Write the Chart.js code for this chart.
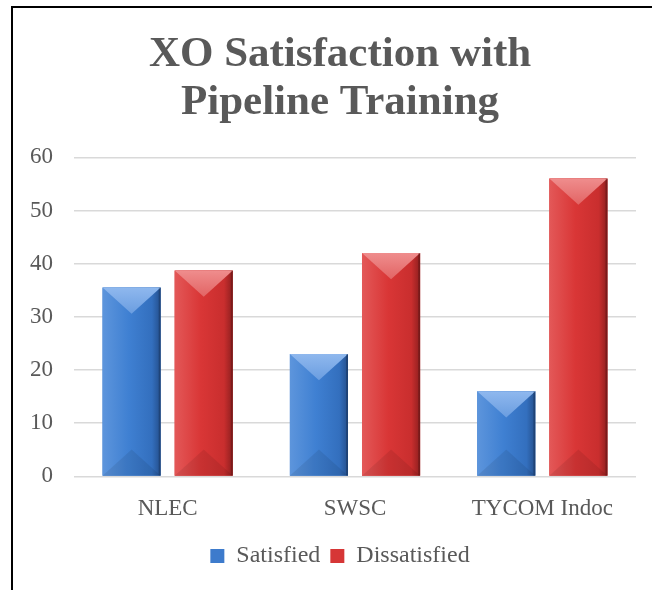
<!DOCTYPE html>
<html>
<head>
<meta charset="utf-8">
<script src="https://cdn.jsdelivr.net/npm/chart.js@4"></script>
<style>
html, body { margin: 0; padding: 0; background: #fff; overflow: hidden; width: 652px; height: 590px; }
#frame { position: absolute; left: 11px; top: 6px; width: 700px; height: 700px;
         border-top: 2px solid #000; border-left: 2px solid #000; }
#wrap { position: absolute; left: 0; top: 0; width: 660px; height: 590px; }
</style>
</head>
<body>
<div id="frame"></div>
<div id="wrap"><canvas id="chart" width="660" height="590"></canvas></div>
<script>
// chart values
const categories = ['NLEC', 'SWSC', 'TYCOM Indoc'];
const seriesNames = ['Satisfied', 'Dissatisfied'];
const satisfied = [35.5, 23, 16];
const dissatisfied = [38.7, 42, 56];
const yTicks = [0, 10, 20, 30, 40, 50, 60];

const serif = '"Liberation Serif", "Times New Roman", serif';
const textGray = '#595959';

// colours for the bevelled look of each series
const palettes = [
    { base: '#3d7bcc', left: '#5d95dc', mid: '#3f80d2', mid2: '#336fbe', right: '#244f8c', top: '#8fb8ee', topEnd: '#6a9de0' },
    { base: '#d63636', left: '#e35858', mid: '#d93636', mid2: '#c92e2e', right: '#8e1f1f', top: '#ef8d8d', topEnd: '#e26464' }
];

// Draw the bevel on top of each bar, using the bar element positions
const bevelPlugin = {
    id: 'bevel',
    afterDatasetsDraw(chart) {
        const ctx = chart.ctx;
        chart.data.datasets.forEach((ds, i) => {
            const meta = chart.getDatasetMeta(i);
            if (meta.hidden) return;
            const pal = palettes[i];
            meta.data.forEach(bar => {
                const { x, y, base, width } = bar.getProps(['x', 'y', 'base', 'width'], true);
                const l = x - width / 2, r = x + width / 2, t = y, b = base, h = b - t;
                ctx.save();
                let g = ctx.createLinearGradient(l, 0, r, 0);
                g.addColorStop(0, pal.left);
                g.addColorStop(0.45, pal.mid);
                g.addColorStop(0.85, pal.mid2);
                g.addColorStop(1, pal.right);
                ctx.fillStyle = g;
                ctx.fillRect(l, t, width, h);

                const d = Math.min(width * 0.45, h / 2);
                // top facet
                g = ctx.createLinearGradient(0, t, 0, t + d);
                g.addColorStop(0, pal.top);
                g.addColorStop(1, pal.topEnd);
                ctx.fillStyle = g;
                ctx.beginPath();
                ctx.moveTo(l, t); ctx.lineTo(r, t); ctx.lineTo(x, t + d);
                ctx.closePath(); ctx.fill();
                // bottom facet
                ctx.fillStyle = 'rgba(0,0,0,0.08)';
                ctx.beginPath();
                ctx.moveTo(l, b); ctx.lineTo(r, b); ctx.lineTo(x, b - d);
                ctx.closePath(); ctx.fill();
                // dark right edge
                ctx.fillStyle = 'rgba(0,0,0,0.18)';
                ctx.fillRect(r - 2, t, 2, h);
                ctx.restore();
            });
        });
    }
};

new Chart(document.getElementById('chart'), {
    type: 'bar',
    data: {
        labels: categories,
        datasets: [
            { label: seriesNames[0], data: satisfied, backgroundColor: palettes[0].base },
            { label: seriesNames[1], data: dissatisfied, backgroundColor: palettes[1].base }
        ]
    },
    options: {
        responsive: false,
        devicePixelRatio: 1,
        animation: false,
        categoryPercentage: 0.77,
        barPercentage: 0.806,
        layout: { padding: { top: 8, left: 20, right: 0, bottom: 12 } },
        plugins: {
            title: {
                display: true,
                text: ['XO Satisfaction with', 'Pipeline Training'],
                color: textGray,
                font: { family: serif, size: 43, weight: 'bold', lineHeight: 1.12 },
                padding: { top: 23, bottom: 30 }
            },
            legend: {
                position: 'bottom',
                labels: {
                    color: textGray,
                    font: { family: serif, size: 24 },
                    boxWidth: 14,
                    boxHeight: 14,
                    padding: 10
                }
            },
            tooltip: { enabled: false }
        },
        scales: {
            x: {
                grid: { display: false },
                border: { display: false },
                ticks: { color: textGray, font: { family: serif, size: 23 }, padding: 11 }
            },
            y: {
                min: 0,
                max: 60,
                afterBuildTicks: scale => { scale.ticks = yTicks.map(v => ({ value: v })); },
                afterFit: scale => { scale.width = 54; },
                grid: { color: '#d9d9d9', lineWidth: 1.5, drawTicks: false },
                border: { display: false },
                ticks: { color: textGray, font: { family: serif, size: 23 }, padding: 21 }
            },
            // empty spacer on the right so the plot ends where the reference does
            spacer: {
                type: 'linear',
                position: 'right',
                afterFit: scale => { scale.width = 24; },
                grid: { display: false },
                border: { display: false },
                ticks: { display: false }
            }
        }
    },
    plugins: [bevelPlugin]
});
</script>
</body>
</html>
